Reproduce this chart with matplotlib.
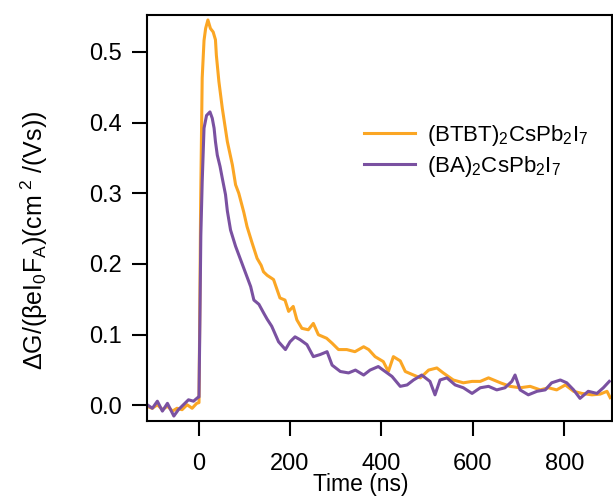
import numpy as np
import matplotlib
matplotlib.use('Agg')
import matplotlib.pyplot as plt

plt.rcParams['font.family'] = ['Liberation Sans', 'DejaVu Sans']
plt.rcParams['mathtext.fontset'] = 'custom'
plt.rcParams['mathtext.rm'] = 'Liberation Sans'
plt.rcParams['mathtext.it'] = 'Liberation Sans:italic'
plt.rcParams['mathtext.default'] = 'regular'

# values (time in ns, photoconductance)
t_btbt = [-110, -101, -90, -79, -68, -57, -47, -36, -25, -14, -4, 1, 3, 4.5, 8, 12, 15.5,
          20.5, 26, 32, 37, 39, 44.5, 52, 63, 74, 81, 88, 99, 106, 117, 128, 137, 142,
          150, 164, 178, 189, 197, 207, 215, 226, 240, 251, 262, 280, 292, 306, 324,
          342, 361, 372, 386, 404, 415, 426, 441, 452, 470, 485, 503, 521, 535, 557,
          579, 598, 616, 634, 660, 681, 703, 725, 747, 765, 783, 802, 820, 838, 860,
          878, 893, 900]
y_btbt = [-0.002, -0.004, 0.001, -0.006, -0.001, -0.008, -0.004, -0.006, 0.001, -0.004,
          0.003, 0.004, 0.15, 0.28, 0.463, 0.516, 0.533, 0.545, 0.533, 0.528, 0.517,
          0.495, 0.458, 0.42, 0.373, 0.34, 0.312, 0.30, 0.273, 0.253, 0.23, 0.208,
          0.198, 0.189, 0.184, 0.178, 0.152, 0.149, 0.133, 0.14, 0.121, 0.109, 0.107,
          0.116, 0.10, 0.095, 0.088, 0.079, 0.079, 0.076, 0.083, 0.079, 0.069, 0.062,
          0.048, 0.069, 0.063, 0.048, 0.043, 0.039, 0.05, 0.053, 0.046, 0.036, 0.032,
          0.034, 0.034, 0.039, 0.032, 0.027, 0.025, 0.027, 0.022, 0.025, 0.022, 0.029,
          0.02, 0.017, 0.015, 0.016, 0.02, 0.011]

t_ba = [-110, -101, -90, -79, -68, -54, -44, -33, -22, -11, -2, 1, 3, 5, 8, 12, 17.5, 25,
        30, 34, 37, 41, 47, 52, 59, 63, 70, 81, 92, 103, 114, 121, 132, 143, 150, 160,
        175, 190, 200, 211, 222, 237, 251, 266, 281, 292, 310, 328, 343, 361, 375, 393,
        408, 423, 441, 456, 470, 488, 506, 517, 528, 543, 561, 579, 598, 616, 634, 652,
        670, 685, 692, 703, 721, 740, 758, 772, 791, 805, 820, 834, 852, 871, 885, 898]
y_ba = [0.0, -0.004, 0.006, -0.008, 0.003, -0.015, -0.006, 0.001, 0.008, 0.006, 0.011,
        0.012, 0.12, 0.24, 0.316, 0.392, 0.41, 0.415, 0.406, 0.392, 0.373, 0.354, 0.338,
        0.321, 0.298, 0.275, 0.248, 0.225, 0.206, 0.187, 0.168, 0.149, 0.143, 0.13,
        0.122, 0.112, 0.09, 0.079, 0.09, 0.097, 0.093, 0.086, 0.069, 0.072, 0.076,
        0.057, 0.048, 0.046, 0.05, 0.043, 0.05, 0.055, 0.048, 0.041, 0.027, 0.029,
        0.036, 0.043, 0.034, 0.015, 0.036, 0.039, 0.029, 0.025, 0.017, 0.025, 0.027,
        0.022, 0.025, 0.034, 0.043, 0.022, 0.015, 0.02, 0.022, 0.032, 0.036, 0.032,
        0.022, 0.01, 0.02, 0.017, 0.025, 0.034]

fig = plt.figure(figsize=(6.13, 4.97), dpi=100)
ax = fig.add_axes([0.2403, 0.1529, 0.7581, 0.8169])

ax.plot(t_btbt, y_btbt, color='#FBA624', lw=2.2, label='(BTBT)$_2$CsPb$_2$I$_7$')
ax.plot(t_ba, y_ba, color='#7A51A1', lw=2.2, label='(BA)$_2$CsPb$_2$I$_7$')

ax.set_xlim(-112, 904)
ax.set_ylim(-0.022, 0.552)
ax.set_xticks([0, 200, 400, 600, 800])
ax.set_yticks([0.0, 0.1, 0.2, 0.3, 0.4, 0.5])
ax.set_yticklabels(['0.0', '0.1', '0.2', '0.3', '0.4', '0.5'])

for s in ax.spines.values():
    s.set_linewidth(1.5)
ax.tick_params(axis='both', direction='out', length=11, width=1.5, labelsize=17)
ax.tick_params(axis='x', pad=12)
ax.tick_params(axis='y', pad=7)

ax.set_xlabel('Time (ns)', fontsize=16.5, va='center')
ax.xaxis.set_label_coords(0.46, -0.157)
ax.set_ylabel('ΔG/(βeI$_0$F$_A$)(cm$^{\\ 2}$ /(Vs))', fontsize=18, va='center')
ax.yaxis.set_label_coords(-0.243, 0.445)

ax.legend(loc='upper left', bbox_to_anchor=(0.467, 0.735), frameon=False, fontsize=16,
          handlelength=2.3, handletextpad=0.5, labelspacing=0.3, borderpad=0,
          borderaxespad=0)

fig.savefig('out.png', dpi=100)
